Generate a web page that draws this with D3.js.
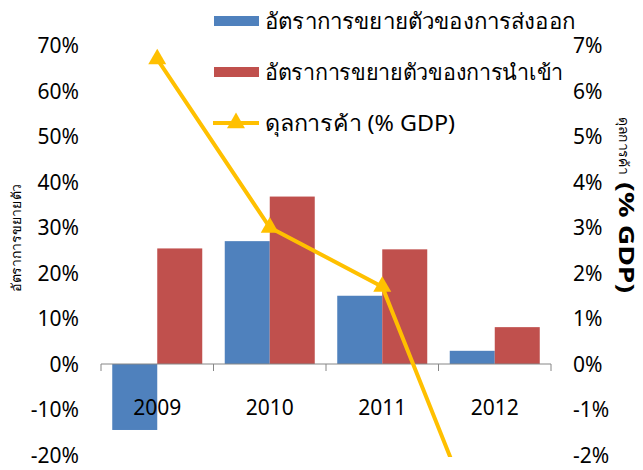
<!DOCTYPE html>
<html>
<head>
<meta charset="utf-8">
<script src="https://cdn.jsdelivr.net/npm/d3@7"></script>
<style>
  html, body { margin: 0; padding: 0; background: #fff; }
  svg { display: block; }
  text { font-family: "Noto Sans", "DejaVu Sans", sans-serif; fill: #000; }
</style>
</head>
<body>
<svg id="chart" width="643" height="470"></svg>
<script>
const categories = ["2009", "2010", "2011", "2012"];
const exportGrowth = [-14.5, 27.0, 15.0, 2.9];
const importGrowth = [25.4, 36.8, 25.2, 8.1];
const tradeBalance = [6.7, 3.0, 1.7, -4.5];
const leftTicks = [-20, -10, 0, 10, 20, 30, 40, 50, 60, 70];
const rightTicks = [-2, -1, 0, 1, 2, 3, 4, 5, 6, 7];
const seriesNames = ["อัตราการขยายตัวของการส่งออก", "อัตราการขยายตัวของการนำเข้า", "ดุลการค้า (% GDP)"];
const leftTitle = "อัตราการขยายตัว";
const rightTitleThai = "ดุลการค้า";
const rightTitleRest = " (% GDP)";

const colors = { exp: "#4F81BD", imp: "#C0504D", line: "#FFC000" };

const svg = d3.select("#chart");
const plot = { left: 101, right: 551, top: 45.5, bottom: 455 };

const x = d3.scaleBand().domain(categories).range([plot.left, plot.right]).padding(0);
const yL = d3.scaleLinear().domain([-20, 70]).range([plot.bottom, plot.top]);
const yR = d3.scaleLinear().domain([-2, 7]).range([plot.bottom, plot.top]);
const barW = x.bandwidth() * 0.4;

// bars
const g = svg.append("g");
categories.forEach((c, i) => {
  const cx = x(c) + x.bandwidth() / 2;
  g.append("rect")
    .attr("x", cx - barW).attr("width", barW)
    .attr("y", yL(Math.max(0, exportGrowth[i])))
    .attr("height", Math.abs(yL(exportGrowth[i]) - yL(0)))
    .attr("fill", colors.exp);
  g.append("rect")
    .attr("x", cx).attr("width", barW)
    .attr("y", yL(Math.max(0, importGrowth[i])))
    .attr("height", Math.abs(yL(importGrowth[i]) - yL(0)))
    .attr("fill", colors.imp);
});

// x axis at zero
const xg = svg.append("g").attr("transform", `translate(0,${yL(0)})`);
xg.append("line").attr("x1", plot.left).attr("x2", plot.right).attr("y1", 0).attr("y2", 0)
  .attr("stroke", "#868686").attr("stroke-width", 1);
const bounds = categories.map(c => x(c)).concat([plot.right]);
bounds.forEach(b => {
  xg.append("line").attr("x1", b).attr("x2", b).attr("y1", 0).attr("y2", 7)
    .attr("stroke", "#868686").attr("stroke-width", 1);
});

// left axis labels
const lAxis = d3.axisLeft(yL).tickValues(leftTicks).tickFormat(d => d + "%").tickSize(0).tickPadding(0);
const lg = svg.append("g").attr("transform", "translate(79,0)").call(lAxis);
lg.select(".domain").remove();
lg.selectAll("text").attr("font-size", 21).attr("dy", "0.35em").attr("x", 0);

// right axis labels
const rAxis = d3.axisRight(yR).tickValues(rightTicks).tickFormat(d => d + "%").tickSize(0).tickPadding(0);
const rg = svg.append("g").attr("transform", "translate(573,0)").call(rAxis);
rg.select(".domain").remove();
rg.selectAll("text").attr("font-size", 21).attr("dy", "0.35em").attr("x", 0);

// category labels
const catG = svg.append("g");
categories.forEach(c => {
  catG.append("text").attr("x", x(c) + x.bandwidth() / 2).attr("y", 408)
    .attr("text-anchor", "middle").attr("dy", "0.35em").attr("font-size", 21).text(c);
});

// line clipped
svg.append("clipPath").attr("id", "clip").append("rect")
  .attr("x", 0).attr("y", plot.top - 20).attr("width", 643).attr("height", plot.bottom - plot.top + 22);
const lineGen = d3.line().x((d, i) => x(categories[i]) + x.bandwidth() / 2).y(d => yR(d));
const lg2 = svg.append("g").attr("clip-path", "url(#clip)");
lg2.append("path").datum(tradeBalance).attr("d", lineGen)
  .attr("fill", "none").attr("stroke", colors.line).attr("stroke-width", 4).attr("stroke-linejoin", "round");
const tri = d3.symbol().type(d3.symbolTriangle).size(140);
tradeBalance.forEach((v, i) => {
  if (v >= -2 && v <= 7) {
    lg2.append("path").attr("d", tri)
      .attr("transform", `translate(${x(categories[i]) + x.bandwidth() / 2},${yR(v)})`)
      .attr("fill", colors.line);
  }
});

// legend
const leg = svg.append("g");
const rows = [21, 72, 123];
const legLens = [310, 298, 190];
leg.append("rect").attr("x", 214).attr("y", rows[0] - 5).attr("width", 45).attr("height", 10).attr("fill", colors.exp);
leg.append("rect").attr("x", 214).attr("y", rows[1] - 5).attr("width", 45).attr("height", 10).attr("fill", colors.imp);
leg.append("line").attr("x1", 213).attr("x2", 259).attr("y1", rows[2]).attr("y2", rows[2])
  .attr("stroke", colors.line).attr("stroke-width", 4);
leg.append("path").attr("d", tri).attr("transform", `translate(236,${rows[2]})`).attr("fill", colors.line);
seriesNames.forEach((n, i) => {
  leg.append("text").attr("x", 265).attr("y", rows[i]).attr("dy", "0.35em").attr("font-size", 22)
    .attr("textLength", legLens[i]).attr("lengthAdjust", "spacingAndGlyphs").text(n);
});

// axis titles
svg.append("text").attr("transform", "translate(16,238) rotate(-90)")
  .attr("text-anchor", "middle").attr("dy", "0.35em").attr("font-size", 13)
  .attr("textLength", 108).attr("lengthAdjust", "spacingAndGlyphs").text(leftTitle);
const rt = svg.append("text").attr("transform", "translate(619,117) rotate(90)")
  .attr("text-anchor", "start");
rt.append("tspan").attr("font-size", 13).attr("textLength", 58).attr("lengthAdjust", "spacingAndGlyphs").text(rightTitleThai);
rt.append("tspan").attr("font-size", 22).attr("font-weight", "bold")
  .attr("textLength", 118).attr("lengthAdjust", "spacingAndGlyphs").text(rightTitleRest);
</script>
</body>
</html>
